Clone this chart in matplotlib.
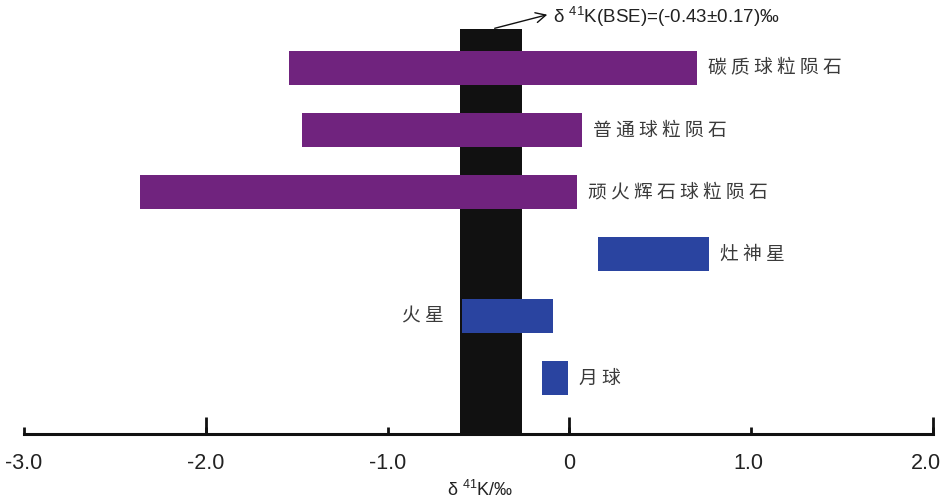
import matplotlib
matplotlib.use("Agg")
import matplotlib.pyplot as plt
import matplotlib.transforms as mtransforms
from matplotlib import font_manager

names = ["碳质球粒陨石", "普通球粒陨石", "顽火辉石球粒陨石", "灶神星", "火星", "月球"]
lows = [-1.54, -1.47, -2.36, 0.16, -0.59, -0.15]
highs = [0.70, 0.07, 0.04, 0.77, -0.09, -0.01]
colors = ["#70237e", "#70237e", "#70237e", "#2a44a0", "#2a44a0", "#2a44a0"]
label_side = ["right", "right", "right", "right", "left", "right"]
bse_mean = -0.43
bse_err = 0.17
xticks = [-3.0, -2.0, -1.0, 0.0, 1.0, 2.0]
xticklabels = ["-3.0", "-2.0", "-1.0", "0", "1.0", "2.0"]
long_ticks = [-2.0, 0.0, 2.0]

avail = {f.name for f in font_manager.fontManager.ttflist}
narrow = [f for f in ["Liberation Sans Narrow", "DejaVu Sans Condensed", "Liberation Sans"] if f in avail][0]
plt.rcParams["mathtext.fontset"] = "custom"
plt.rcParams["mathtext.rm"] = narrow
plt.rcParams["mathtext.it"] = narrow
plt.rcParams["mathtext.bf"] = narrow

fig = plt.figure(figsize=(9.43, 4.99), dpi=100)
ax = fig.add_axes([24 / 943, 65 / 499, 909 / 943, 434 / 499])
ax.set_xlim(-3.0, 2.0)
ax.set_ylim(-0.9, 6.09)

n = len(names)
ypos = [n - 1 - i for i in range(n)]

# BSE band
ax.bar(bse_mean, 5.62 + 0.9, width=2 * bse_err, bottom=-0.9, color="#111111", zorder=1)

cjk = ["Noto Sans CJK SC", "DejaVu Sans"]
for y, lo, hi, c, nm, side in zip(ypos, lows, highs, colors, names, label_side):
    ax.barh(y, hi - lo, left=lo, height=0.55, color=c, zorder=2)
    txt = " ".join(nm)
    if side == "right":
        ax.annotate(txt, xy=(hi, y), xytext=(8, 0), textcoords="offset points",
                    ha="left", va="center", fontsize=13.5, color="#3a3a3a",
                    family=cjk, fontweight="light")
    else:
        ax.annotate(txt, xy=(lo, y), xytext=(-13, 0), textcoords="offset points",
                    ha="right", va="center", fontsize=13.5, color="#3a3a3a",
                    family=cjk, fontweight="light")

for s in ["top", "right", "left"]:
    ax.spines[s].set_visible(False)
ax.spines["bottom"].set_linewidth(2.2)
ax.spines["bottom"].set_color("#111111")
ax.set_yticks([])
ax.xaxis.remove_overlapping_locs = False
ax.set_xticks(xticks)
ax.set_xticklabels(xticklabels, fontsize=15.5, family=narrow, color="#222222")
ax.tick_params(axis="x", which="major", direction="in", length=5, width=2,
               color="#111111", pad=14)
ax.set_xticks(long_ticks, minor=True)
ax.tick_params(axis="x", which="minor", direction="in", length=12, width=2,
               color="#111111")

# shift the last tick label slightly left so it stays on the canvas
lbls = ax.get_xticklabels()
lbls[-1].set_transform(lbls[-1].get_transform() +
                       mtransforms.ScaledTranslation(-7 / 100, 0, fig.dpi_scale_trans))
lbls[-2].set_transform(lbls[-2].get_transform() +
                       mtransforms.ScaledTranslation(-3 / 100, 0, fig.dpi_scale_trans))

fig.text(480 / 943, 1 - 490 / 499, r"δ $^{41}$K/‰", ha="center", va="center",
         fontsize=13, family=[narrow, "DejaVu Sans"], color="#222222")

ax.annotate("", xy=(550 / 943, 1 - 14 / 499), xycoords="figure fraction",
            xytext=(492 / 943, 1 - 29 / 499), textcoords="figure fraction",
            arrowprops=dict(arrowstyle="->", lw=1.0, color="#111111",
                            mutation_scale=18))
fig.text(553 / 943, 1 - 17 / 499, r"δ $^{41}$K(BSE)=(-0.43±0.17)‰", ha="left", va="center",
         fontsize=13.5, family=[narrow, "DejaVu Sans"], color="#222222")

fig.savefig("out.png", dpi=100)
